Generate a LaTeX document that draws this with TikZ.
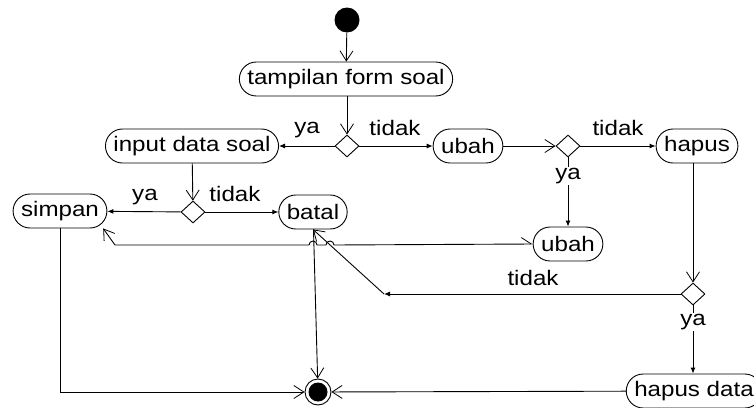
\documentclass[tikz,border=0pt]{standalone}
\usepackage{fontspec}
\setmainfont[FakeStretch=1.15]{Liberation Sans}
\usetikzlibrary{arrows.meta,shapes.geometric}

\begin{document}
\begin{tikzpicture}[x=1pt,y=-1pt,font=\fontsize{21}{24}\selectfont,line width=0.9pt,act/.style={draw, rounded corners=17pt, minimum height=34pt, inner xsep=8pt, inner ysep=0pt, fill=white},dec/.style={diamond, draw, minimum width=24pt, minimum height=22pt, inner sep=0pt, fill=white},lbl/.style={inner sep=1pt},openarr/.style={-{Straight Barb[length=10pt,width=13pt,line width=0.8pt]}},fillarr/.style={-{Latex[length=6pt,width=5pt]}}]
\useasboundingbox (0,0) rectangle (754,407);
% activities and decisions
\node[circle, fill=black, minimum size=25pt, inner sep=0pt] (start) at (347,20) {};
\node[act] (tampil) at (346,79) {tampilan form soal};
\node[dec] (dA) at (347,146) {};
\node[act] (input) at (192,146) {input data soal};
\node[act] (ubahA) at (468,146) {ubah};
\node[dec] (dB) at (568,146) {};
\node[act] (hapus) at (697,146) {hapus};
\node[dec] (dC) at (193,212) {};
\node[act] (simpan) at (60,211) {simpan};
\node[act] (batal) at (313,212) {batal};
\node[act] (ubahB) at (568,244) {ubah};
\node[dec] (dD) at (693,294) {};
\node[act] (hapusdata) at (694,391) {hapus data};
\node[circle, draw, minimum size=26pt, inner sep=0pt] (finish) at (318,392) {};
\fill (finish) circle[radius=9.5];
\coordinate (kD) at (384,294);
\coordinate (kS) at (115,245);
% flows
\draw[openarr] (start) -- (tampil);
\draw[openarr] (dA |- tampil.south) -- (dA);
\draw[fillarr] (dA) -- (input);
\draw[fillarr] (dA) -- (ubahA);
\draw[openarr] (ubahA) -- (dB);
\draw[fillarr] (dB) -- (hapus);
\draw[fillarr] (dB) -- (ubahB);
\draw[openarr] (input) -- (dC);
\draw[fillarr] (dC) -- (simpan);
\draw[fillarr] (dC) -- (batal);
\draw[openarr] (dD |- hapus.south) -- (dD);
\draw[fillarr] (dD) -- (kD);
\draw[openarr] (kD) -- (batal.south);
\draw[fillarr] (dD) -- (dD |- hapusdata.north);
\draw[openarr] (simpan) -- (simpan |- finish) -- (finish);
\draw[openarr] (batal) -- (finish);
\draw[openarr] (hapusdata) -- (finish);
% back to simpan, hopping over the two crossings
\draw[{Straight Barb[harpoon,length=10pt,width=13pt,line width=0.8pt]}-{Straight Barb[length=10pt,width=13pt,line width=0.8pt]}] (ubahB.west) -- (334,245) arc[start angle=0,end angle=-180,radius=4] -- (317,245) arc[start angle=0,end angle=-180,radius=4] -- (kS) -- (simpan.-22);
% guard labels
\node[lbl] (yaA) at (307,130) {ya};
\node[lbl] (tidakA) at (395,128) {tidak};
\node[lbl] (tidakB) at (618,128) {tidak};
\node[lbl, fill=white] (yaB) at (568,176) {ya};
\node[lbl] (yaC) at (145,197) {ya};
\node[lbl] (tidakC) at (235,194) {tidak};
\node[lbl] (tidakD) at (533,278) {tidak};
\node[lbl, fill=white] (yaD) at (693,322) {ya};
\end{tikzpicture}
\end{document}
